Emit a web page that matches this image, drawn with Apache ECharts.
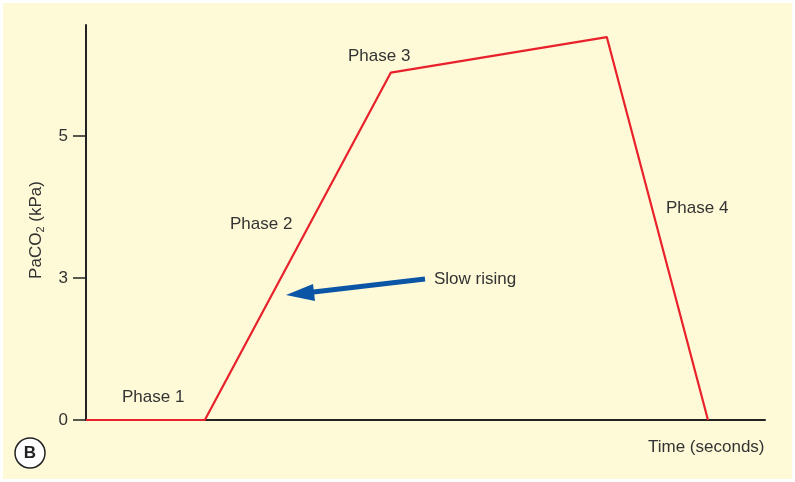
<!DOCTYPE html>
<html>
<head>
<meta charset="utf-8">
<script src="https://cdn.jsdelivr.net/npm/echarts@6/dist/echarts.min.js"></script>
<style>
  html, body { margin: 0; padding: 0; background: #ffffff; }
  #chart { position: absolute; left: 3px; top: 3px; width: 789px; height: 476px; }
</style>
</head>
<body>
<div id="chart"></div>
<script>
// capnogram trace (time in arbitrary units, PaCO2 in kPa)
const timePoints = [0, 17.5, 44.9, 76.7, 91.6]
const paco2 = [0, 0, 5.89, 6.39, 0]
const yTicks = [0, 3, 5]
const phaseLabels = ['Phase 1', 'Phase 2', 'Phase 3', 'Phase 4']

// the printed y axis is not linear: equal spacing between 0, 3 and 5
function toAxis(v) {
  if (v <= 3) return v / 3
  return 1 + (v - 3) / 2
}
function fromAxis(p) {
  if (p <= 1) return p * 3
  return 3 + (p - 1) * 2
}

const seriesData = timePoints.map((t, i) => [t, toAxis(paco2[i])])
const labelFont = '17px "Liberation Sans"'

var myChart = echarts.init(document.getElementById('chart'))
myChart.setOption({
  backgroundColor: '#fef9d7',
  animation: false,
  grid: { left: 83, right: 27, top: 22, bottom: 59 },
  xAxis: {
    type: 'value',
    min: 0,
    max: 100,
    axisLine: { lineStyle: { color: '#222', width: 2 } },
    axisTick: { show: false },
    axisLabel: { show: false },
    splitLine: { show: false }
  },
  yAxis: {
    type: 'value',
    min: 0,
    max: toAxis(6.56),
    axisLine: { show: true, lineStyle: { color: '#222', width: 2 } },
    axisTick: { show: true, length: 13, lineStyle: { color: '#222', width: 1.5 }, customValues: yTicks.map(toAxis) },
    axisLabel: {
      customValues: yTicks.map(toAxis),
      margin: 18,
      fontFamily: 'Liberation Sans',
      fontSize: 17,
      color: '#333',
      formatter: function (p) { return String(Math.round(fromAxis(p))) }
    },
    splitLine: { show: false }
  },
  series: [
    {
      type: 'line',
      data: seriesData,
      symbol: 'none',
      z: 5,
      lineStyle: { color: '#e8212b', width: 2.2 }
    }
  ],
  graphic: [
    { type: 'text', left: 119, top: 386, style: { text: phaseLabels[0], font: labelFont, fill: '#333' } },
    { type: 'text', left: 227, top: 213, style: { text: phaseLabels[1], font: labelFont, fill: '#333' } },
    { type: 'text', left: 345, top: 45, style: { text: phaseLabels[2], font: labelFont, fill: '#333' } },
    { type: 'text', left: 663, top: 197, style: { text: phaseLabels[3], font: labelFont, fill: '#333' } },
    { type: 'text', left: 431, top: 268, style: { text: 'Slow rising', font: labelFont, fill: '#333' } },
    { type: 'text', left: 645, top: 436, style: { text: 'Time (seconds)', font: labelFont, fill: '#333' } },
    {
      type: 'text', x: 33, y: 227, rotation: Math.PI / 2,
      style: {
        text: '{a|PaCO}{s|2}{a| (kPa)}', align: 'center', verticalAlign: 'middle',
        rich: {
          a: { fontFamily: 'Liberation Sans', fontSize: 17, fill: '#333' },
          s: { fontFamily: 'Liberation Sans', fontSize: 11, fill: '#333', padding: [10, 0, 0, 0] }
        }
      }
    },
    { type: 'line', shape: { x1: 422, y1: 276, x2: 302, y2: 290 }, style: { stroke: '#0b55a6', lineWidth: 5 } },
    { type: 'polygon', shape: { points: [[283, 292], [310, 281], [312, 298]] }, style: { fill: '#0b55a6' } },
    { type: 'circle', shape: { cx: 27, cy: 450, r: 15 }, style: { fill: '#fff', stroke: '#222', lineWidth: 1.5 } },
    { type: 'text', x: 27, y: 450, style: { text: 'B', font: 'bold 17px "Liberation Sans"', fill: '#222', align: 'center', verticalAlign: 'middle' } }
  ]
})
</script>
</body>
</html>
